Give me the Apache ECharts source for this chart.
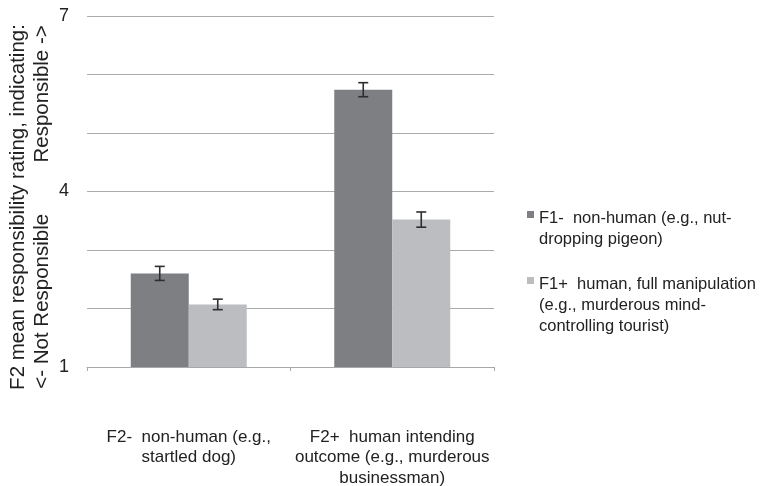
<!DOCTYPE html>
<html>
<head>
<meta charset="utf-8">
<script src="https://cdn.jsdelivr.net/npm/echarts@6/dist/echarts.min.js"></script>
<style>html,body{margin:0;padding:0;background:#fff;}#c{width:766px;height:486px;}</style>
</head>
<body>
<div id="c"></div>
<script>
const categories = ['F2-  non-human (e.g.,\nstartled dog)', 'F2+  human intending\noutcome (e.g., murderous\nbusinessman)'];
const seriesNames = ['F1-  non-human (e.g., nut-\ndropping pigeon)', 'F1+  human, full manipulation\n(e.g., murderous mind-\ncontrolling tourist)'];
const f1MinusMeans = [2.60, 5.74];
const f1MinusErrors = [0.12, 0.12];
const f1PlusMeans = [2.07, 3.52];
const f1PlusErrors = [0.09, 0.13];
const yTickLabels = [1, 4, 7];

const FONT = '"Liberation Sans", Arial, Helvetica, sans-serif';
const DARK = '#7e7f83';
const LIGHT = '#bcbdc0';
const BAR_W = 0.285;

function errData(means, errs) {
  return means.map((m, i) => [i, m, errs[i]]);
}
function errRender(side) {
  return function (params, api) {
    const cat = api.value(0), m = api.value(1), e = api.value(2);
    const band = api.size([1, 0])[0];
    const off = side * band * BAR_W / 2;
    const hi = api.coord([cat, m + e]);
    const lo = api.coord([cat, m - e]);
    const x = hi[0] + off;
    const cap = 5;
    const style = { stroke: '#2e2e2e', lineWidth: 1.6 };
    return {
      type: 'group',
      children: [
        { type: 'line', shape: { x1: x, y1: hi[1], x2: x, y2: lo[1] }, style },
        { type: 'line', shape: { x1: x - cap, y1: hi[1], x2: x + cap, y2: hi[1] }, style },
        { type: 'line', shape: { x1: x - cap, y1: lo[1], x2: x + cap, y2: lo[1] }, style }
      ]
    };
  };
}

const chart = echarts.init(document.getElementById('c'));
chart.setOption({
  animation: false,
  backgroundColor: '#fff',
  textStyle: { fontFamily: FONT },
  grid: { left: 87, right: 272, top: 16, bottom: 119, containLabel: false, outerBoundsMode: 'none' },
  legend: {
    orient: 'vertical',
    left: 527,
    top: 197,
    padding: 0,
    itemWidth: 7,
    itemHeight: 63,
    itemGap: 13.5,
    selectedMode: false,
    textStyle: { fontFamily: FONT, fontSize: 16.5, lineHeight: 21, color: '#222' },
    data: [
      { name: seriesNames[0], icon: 'path://M0,0h0.01v0.01h-0.01zM0,14h7v7h-7zM6.99,62.99h0.01v0.01h-0.01z' },
      { name: seriesNames[1], icon: 'path://M0,0h0.01v0.01h-0.01zM0,3.5h7v7h-7zM6.99,62.99h0.01v0.01h-0.01z' }
    ]
  },
  xAxis: {
    type: 'category',
    data: categories,
    axisLine: { lineStyle: { color: '#a8a8a8', width: 1 } },
    axisTick: { show: true, length: 4, lineStyle: { color: '#a8a8a8' } },
    axisLabel: { margin: 60, fontFamily: FONT, fontSize: 17, lineHeight: 20.5, color: '#222', align: 'center', interval: 0 },
    splitLine: { show: false }
  },
  yAxis: {
    type: 'value',
    min: 1,
    max: 7,
    interval: 1,
    name: 'F2 mean responsibility rating, indicating:\n<- Not Responsible         Responsible ->',
    nameLocation: 'middle',
    nameRotate: 90,
    nameGap: 33,
    nameMoveOverlap: false,
    nameTextStyle: { fontFamily: FONT, fontSize: 20.5, lineHeight: 24, color: '#222', padding: [0, 31, 0, 0] },
    axisLine: { show: false },
    axisTick: { show: false },
    axisLabel: {
      margin: 18, fontFamily: FONT, fontSize: 18, color: '#222',
      formatter: v => (yTickLabels.indexOf(v) >= 0 ? String(v) : '')
    },
    splitLine: { lineStyle: { color: '#ababab', width: 1 } }
  },
  series: [
    { name: seriesNames[0], type: 'bar', data: f1MinusMeans, barWidth: (BAR_W * 100) + '%', barGap: '0%', itemStyle: { color: DARK } },
    { name: seriesNames[1], type: 'bar', data: f1PlusMeans, barWidth: (BAR_W * 100) + '%', barGap: '0%', itemStyle: { color: LIGHT } },
    { name: 'errMinus', type: 'custom', renderItem: errRender(-1), data: errData(f1MinusMeans, f1MinusErrors), z: 10, encode: { x: 0, y: 1 } },
    { name: 'errPlus', type: 'custom', renderItem: errRender(1), data: errData(f1PlusMeans, f1PlusErrors), z: 10, encode: { x: 0, y: 1 } }
  ]
});
</script>
</body>
</html>
